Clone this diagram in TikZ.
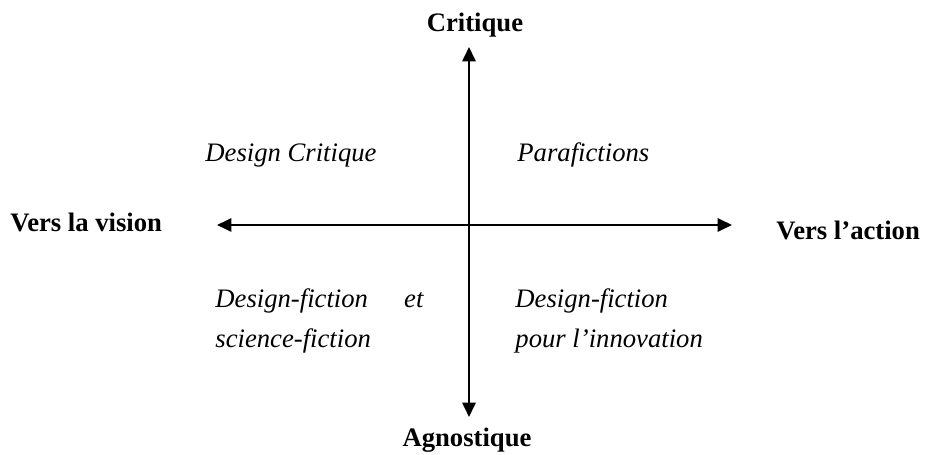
\documentclass[tikz,border=0pt]{standalone}
\usepackage{fontspec}
\setmainfont{Liberation Serif}
\usepackage{tikz}
\usetikzlibrary{arrows.meta}

\tikzset{
  axis/.style={black, line width=0.95pt, {Triangle[length=6.5pt,width=6pt]}-{Triangle[length=6.5pt,width=6pt]}},
  pole/.style={font=\bfseries\fontsize{12}{14}\selectfont, inner sep=0pt},
  zone/.style={font=\itshape\fontsize{12}{18}\selectfont, inner sep=0pt, align=left}
}

\begin{document}
\begin{tikzpicture}[x=0.45pt, y=-0.45pt]
  % Frame of the picture
  \useasboundingbox (0,0) rectangle (925,455);

  % Ends of the two axes
  \coordinate (top) at (469,47);
  \coordinate (bottom) at (469,417);
  \coordinate (left) at (217,225);
  \coordinate (right) at (732,225);

  % Axes
  \draw[axis] (bottom) -- (top);
  \draw[axis] (left) -- (right);

  % Poles
  \node[pole, anchor=base] (critique) at (475,32) {Critique};
  \node[pole, anchor=base] (agnostique) at (467,447) {Agnostique};
  \node[pole, anchor=base west] (vision) at (10,232) {Vers la vision};
  \node[pole, anchor=base west] (action) at (776,240) {Vers l’action};

  % Quadrants
  \node[zone, anchor=base west] (designcritique) at (205,162) {Design Critique};
  \node[zone, anchor=base west] (parafictions) at (517,162) {Parafictions};
  \node[zone, anchor=north west, text width=93.6pt, align=justify] (sciencefiction) at (215,288) %
    {\mbox{Design-fiction} et \mbox{science-fiction}};
  \node[zone, anchor=north west] (innovation) at (515,288) %
    {Design-fiction\\pour l’innovation};
\end{tikzpicture}
\end{document}
